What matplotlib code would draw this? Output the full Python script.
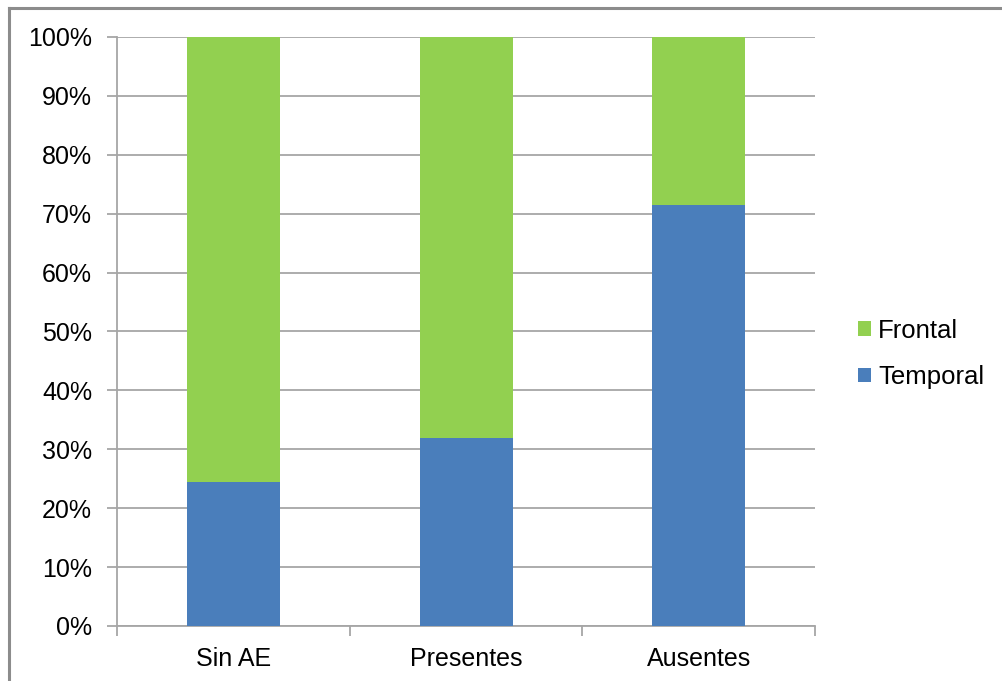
import matplotlib.pyplot as plt
from matplotlib.lines import Line2D
from matplotlib.ticker import FixedLocator, PercentFormatter

plt.rcParams['font.family'] = ['Liberation Sans', 'DejaVu Sans']

grupos = ['Sin AE', 'Presentes', 'Ausentes']
temporal = [24.4, 31.9, 71.5]
frontal = [100 - t for t in temporal]

azul = '#4A7EBB'
verde = '#92D050'
gris = '#A6A6A6'

fig = plt.figure(figsize=(10.03, 6.81), dpi=100)
ax = fig.add_axes([0.1167, 0.0808, 0.6959, 0.8649])

x = range(len(grupos))
ax.bar(x, temporal, width=0.4, color=azul, label='Temporal', zorder=3)
ax.bar(x, frontal, width=0.4, bottom=temporal, color=verde, label='Frontal', zorder=3)

ax.set_xlim(-0.5, 2.5)
ax.set_ylim(0, 100)
ax.set_yticks(range(0, 101, 10))
ax.yaxis.set_major_formatter(PercentFormatter(decimals=0))
ax.yaxis.grid(True, color=gris, linewidth=1.3, zorder=0)

ax.set_xticks(list(x))
ax.set_xticklabels(grupos)
ax.xaxis.set_minor_locator(FixedLocator([-0.5, 0.5, 1.5, 2.5]))
ax.tick_params(axis='x', which='major', length=0, pad=15, labelsize=18)
ax.tick_params(axis='x', which='minor', length=7, width=1.3, color=gris)
ax.tick_params(axis='y', length=7, width=1.3, color=gris, pad=11, labelsize=18)

for lado in ['top', 'right']:
    ax.spines[lado].set_visible(False)
for lado in ['left', 'bottom']:
    ax.spines[lado].set_color(gris)
    ax.spines[lado].set_linewidth(1.3)

# leyenda con Frontal arriba
h, l = ax.get_legend_handles_labels()
ax.legend(h[::-1], l[::-1], loc='center left', bbox_to_anchor=(1.028, 0.462),
          frameon=False, fontsize=18.5, handlelength=0.5, handleheight=0.5,
          handletextpad=0.3, labelspacing=0.88)

# marco del gráfico (solo se ven los bordes superior e izquierdo)
fig.add_artist(Line2D([0.009, 1.0], [0.988, 0.988], color='#8C8C8C', linewidth=2.2,
                      transform=fig.transFigure))
fig.add_artist(Line2D([0.009, 0.009], [0.0, 0.988], color='#8C8C8C', linewidth=2.2,
                      transform=fig.transFigure))

fig.savefig('out.png', dpi=100)
